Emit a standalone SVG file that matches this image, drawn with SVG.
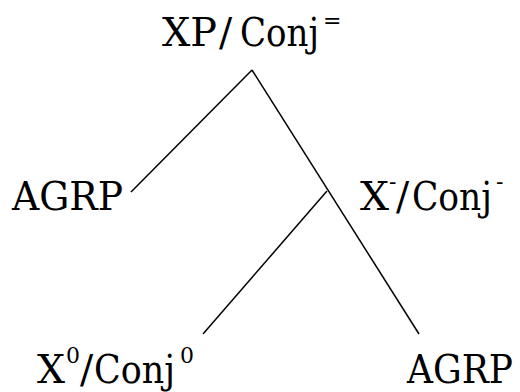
<svg xmlns="http://www.w3.org/2000/svg" width="520" height="392" viewBox="0 0 520 392">
<style>
text{font-family:"DejaVu Serif",serif;font-size:39px;fill:#000}
.sup{font-size:22px}
.edge{stroke:#000;stroke-width:1.5;fill:none}
</style>
<rect width="520" height="392" fill="#fff"/>
<g id="connectors">
<line class="edge" x1="252" y1="70" x2="131" y2="192"/>
<line class="edge" x1="252" y1="70" x2="419" y2="334"/>
<line class="edge" x1="327" y1="191" x2="203" y2="334"/>
</g>
<g id="node-xp">
<text x="162" y="46" textLength="55" lengthAdjust="spacingAndGlyphs">XP</text>
<text x="219" y="46">/</text>
<text x="240" y="46" textLength="79" lengthAdjust="spacingAndGlyphs">Conj</text>
<text class="sup" x="323" y="28">=</text>
</g>
<g id="node-agrp1">
<text x="12" y="210" textLength="111" lengthAdjust="spacingAndGlyphs">AGRP</text>
</g>
<g id="node-xbar">
<text x="360" y="210" textLength="29" lengthAdjust="spacingAndGlyphs">X</text>
<text class="sup" x="389" y="189">-</text>
<text x="396" y="210">/</text>
<text x="412" y="210" textLength="80" lengthAdjust="spacingAndGlyphs">Conj</text>
<text class="sup" x="496" y="189">-</text>
</g>
<g id="node-x0">
<text x="37" y="383" textLength="28" lengthAdjust="spacingAndGlyphs">X</text>
<text class="sup" x="66" y="363">0</text>
<text x="80" y="383">/</text>
<text x="94" y="383" textLength="81" lengthAdjust="spacingAndGlyphs">Conj</text>
<text class="sup" x="180" y="363">0</text>
</g>
<g id="node-agrp2">
<text x="407" y="383" textLength="106" lengthAdjust="spacingAndGlyphs">AGRP</text>
</g>
</svg>
